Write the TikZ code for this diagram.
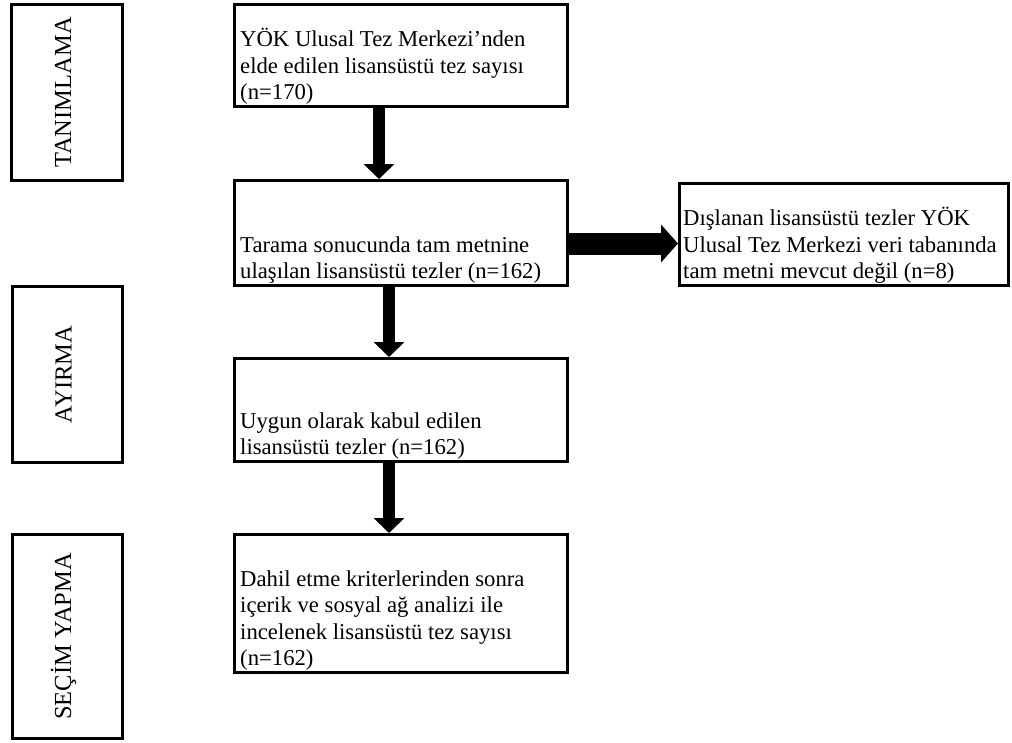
\documentclass[tikz,border=0pt]{standalone}
\usepackage{fontspec}
\setmainfont{Liberation Serif}
\usetikzlibrary{arrows.meta,calc}
\begin{document}
\begin{tikzpicture}[x=1pt,y=-1pt,
  frame/.style={draw=black,line width=3pt,fill=white,rectangle,anchor=north west,inner sep=0pt},
  body/.style={anchor=south west,inner sep=0pt,align=left,font=\fontsize{22.7}{26.5}\selectfont},
  phase/.style={rotate=90,inner sep=0pt,font=\fontsize{24.5}{29}\selectfont},
  flow/.style={line width=12.5pt,-{Triangle[width=30pt,length=15pt]}},
  side/.style={line width=22pt,-{Triangle[width=37pt,length=17pt]}}]
\useasboundingbox (0,0) rectangle (1012,742);

% phase columns on the left
\node[frame,minimum width=111,minimum height=176] (tan) at (10,3) {};
\node[phase] (tanL) at ($(tan.center)+(-4,0)$) {TANIMLAMA};
\node[frame,minimum width=110,minimum height=176] (ayr) at (11,285) {};
\node[phase] (ayrL) at ($(ayr.center)+(-4,0)$) {AYIRMA};
\node[frame,minimum width=110,minimum height=204] (sec) at (11,533) {};
\node[phase] (secL) at ($(sec.center)+(-4,0)$) {SEÇİM YAPMA};

% main flow boxes
\node[frame,minimum width=333,minimum height=102] (b1) at (233,3) {};
\node[body] (t1) at ($(b1.south west)+(7,0)$)
  {YÖK Ulusal Tez Merkezi\symbol{39}nden\\elde edilen lisansüstü tez sayısı\\(n=170)\strut};

\node[frame,minimum width=333,minimum height=105] (b2) at (233,179) {};
\node[body] (t2) at ($(b2.south west)+(7,0)$)
  {Tarama sonucunda tam metnine\\ulaşılan lisansüstü tezler (n=162)\strut};

\node[frame,minimum width=329,minimum height=102] (b3) at (678,182) {};
\node[body] (t3) at ($(b3.south west)+(5,0)$)
  {Dışlanan lisansüstü tezler YÖK\\Ulusal Tez Merkezi veri tabanında\\tam metni mevcut değil (n=8)\strut};

\node[frame,minimum width=333,minimum height=103] (b4) at (233,357) {};
\node[body] (t4) at ($(b4.south west)+(7,0)$)
  {Uygun olarak kabul edilen\\lisansüstü tezler (n=162)\strut};

\node[frame,minimum width=333,minimum height=138] (b5) at (233,533) {};
\node[body] (t5) at ($(b5.south west)+(7,0)$)
  {Dahil etme kriterlerinden sonra\\içerik ve sosyal ağ analizi ile\\incelenek lisansüstü tez sayısı\\(n=162)\strut};

% block arrows
\draw[flow] ($(b1.south west)+(146,0)$) -- ($(b2.north west)+(146,0)$);
\draw[flow] ($(b2.south west)+(156,0)$) -- ($(b4.north west)+(156,0)$);
\draw[flow] ($(b4.south west)+(156,0)$) -- ($(b5.north west)+(156,0)$);
\coordinate (sideStart) at ($(b2.east)+(0,10.5)$);
\draw[side] (sideStart) -- (sideStart -| b3.west);
\end{tikzpicture}
\end{document}
